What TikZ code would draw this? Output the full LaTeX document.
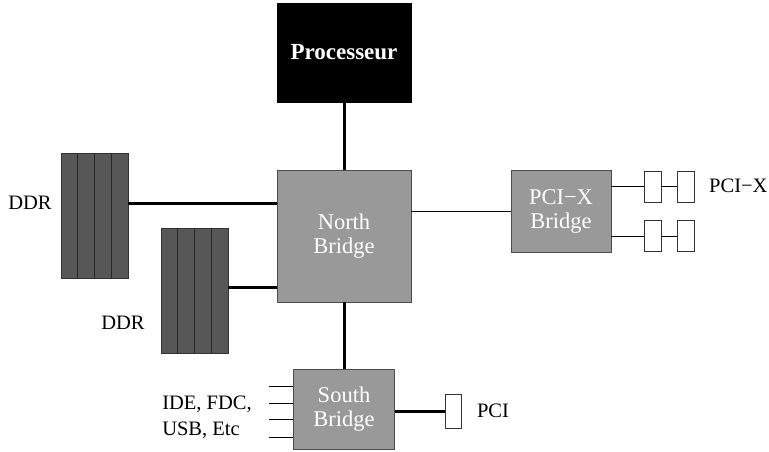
\documentclass[tikz,border=0pt]{standalone}
\usepackage{fontspec}
\setmainfont{Liberation Serif}
\usepackage{tikz}
\usetikzlibrary{positioning,calc}

\definecolor{chipgray}{gray}{0.6}
\definecolor{ramgray}{gray}{0.34}

\tikzset{
  chip/.style={draw=black!70, fill=chipgray, text=white, align=center,
    inner sep=0pt, font=\fontsize{22.5}{24}\selectfont},
  ram/.style={draw=black!80, fill=ramgray, inner sep=0pt,
    minimum width=67pt, minimum height=125pt},
  slot/.style={draw=black!80, fill=white, inner sep=0pt,
    minimum width=17pt, minimum height=31pt},
  lbl/.style={font=\fontsize{20.5}{26}\selectfont, align=left},
  bus/.style={line width=3pt},
  wire/.style={line width=1pt}
}

\begin{document}
\begin{tikzpicture}[x=1pt, y=-1pt]
  \useasboundingbox (0,0) rectangle (769,452);

  % Processor and bridges
  \node[chip, fill=black, draw=black, font=\fontsize{23}{24}\selectfont\bfseries,
    minimum width=134pt, minimum height=99pt] (cpu) at (344,52.5) {Processeur};
  \node[chip, minimum width=134pt, minimum height=132pt] (nb) at (344,236) {North\\Bridge};
  \node[chip, minimum width=100pt, minimum height=82pt] (pcixb) at (561,211) {PCI−X\\Bridge};
  \node[chip, minimum width=101pt, minimum height=80pt] (sb) at (344,409) {South\\Bridge};

  % Memory modules
  \node[ram] (ddra) at (94.5,215.5) {};
  \node[ram] (ddrb) at (194.5,290.5) {};
  \foreach \m in {ddra,ddrb}
    \foreach \k in {1,2,3}
      \draw[black!85] ($(\m.north west)!\k/4!(\m.north east)$) -- ($(\m.south west)!\k/4!(\m.south east)$);
  \node[lbl] (ddralbl) at (30,203) {DDR};
  \node[lbl] (ddrblbl) at (123,323) {DDR};
  \coordinate (ma) at (128,203);
  \coordinate (mb) at (228,287);

  % PCI-X slots
  \node[slot] (sxa) at (652.5,186.5) {};
  \node[slot] (sxb) at (685.5,186.5) {};
  \node[slot] (sxc) at (652.5,236) {};
  \node[slot] (sxd) at (685.5,236) {};
  \node[lbl, anchor=west, inner sep=0pt] (pcixlbl) at (709,186) {PCI−X};

  % PCI slot
  \node[slot, minimum width=16pt, minimum height=34pt] (spci) at (453,411) {};
  \node[lbl] (pcilbl) at (493,411) {PCI};

  % Legacy ports
  \node[lbl, align=left] (legacy) at (207,417) {IDE, FDC,\\USB, Etc};
  \foreach \y [count=\i] in {386,403,419,437}
    \coordinate (io\i) at (269,\y);

  % Buses
  \draw[bus] (cpu) -- (nb);
  \draw[bus] (nb) -- (sb);
  \draw[bus] (ma) -- (ma -| nb.west);
  \draw[bus] (mb) -- (mb -| nb.west);
  \draw[wire] (nb.east |- pcixb.west) -- (pcixb.west);
  \draw[wire] (pcixb.east |- sxa.west) -- (sxa.west);
  \draw[wire] (sxa.east) -- (sxb.west);
  \draw[wire] (pcixb.east |- sxc.west) -- (sxc.west);
  \draw[wire] (sxc.east) -- (sxd.west);
  \draw[bus] (sb.east |- spci.west) -- (spci.west);
  \foreach \i in {1,2,3,4}
    \draw[wire] (io\i) -- (io\i -| sb.west);
\end{tikzpicture}
\end{document}
